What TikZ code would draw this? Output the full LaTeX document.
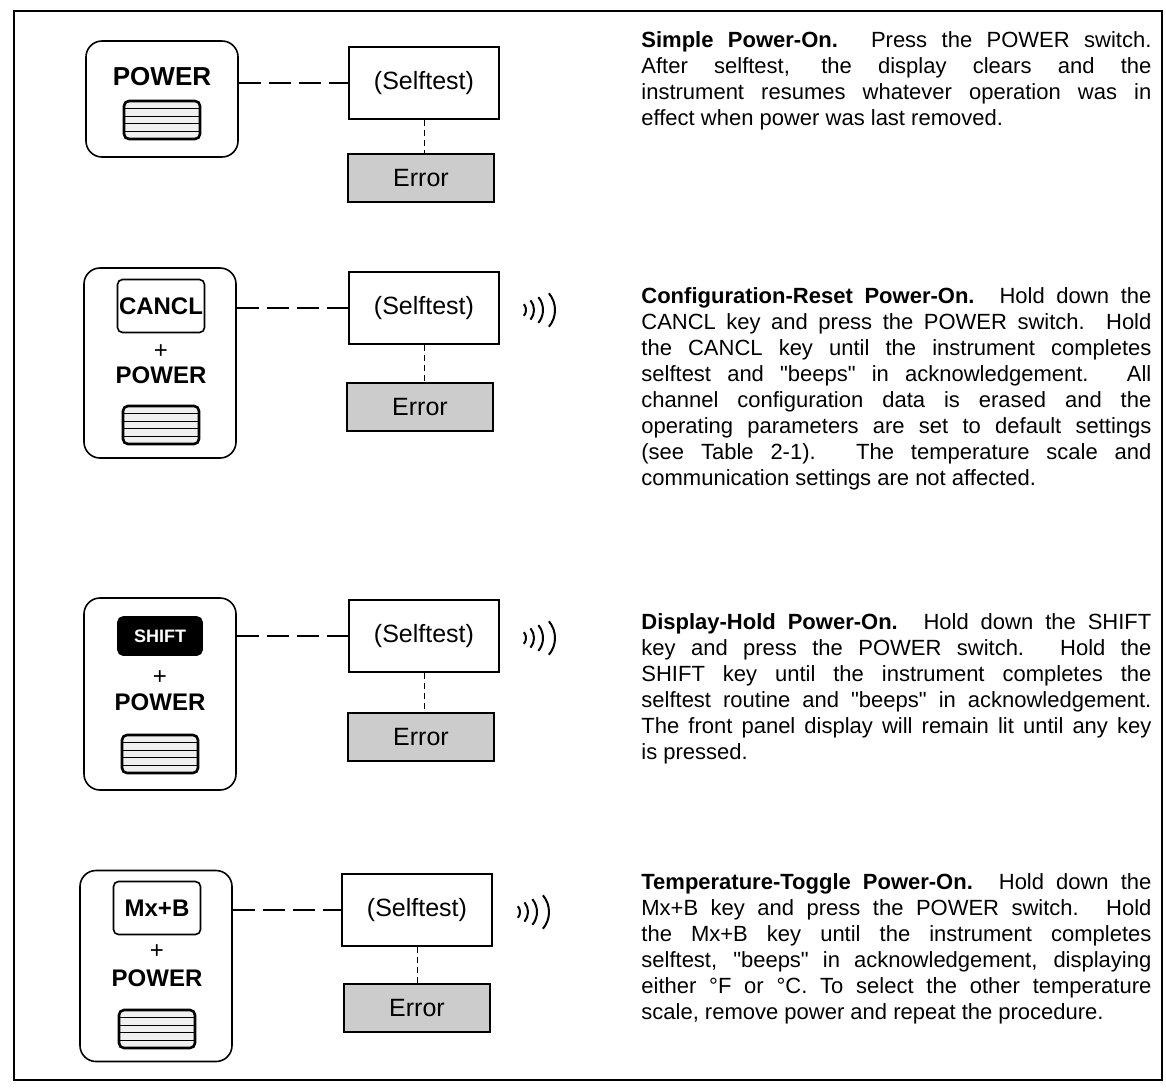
\documentclass[tikz,border=0pt]{standalone}
\usepackage{fontspec}
\setmainfont{Liberation Sans}
\usetikzlibrary{shapes,arrows,positioning}
\tolerance=9999
\hyphenpenalty=10000
\tikzstyle{panel} = [draw, line width=0.8pt, rounded corners=8pt, minimum width=76pt, inner sep=0pt]
\tikzstyle{key} = [draw, line width=0.8pt, rounded corners=2.5pt, minimum width=43.5pt, minimum height=26.5pt, inner sep=0pt, font=\fontsize{12}{14}\selectfont\bfseries]
\tikzstyle{shiftkey} = [key, fill=black, text=white, minimum width=42pt, minimum height=19pt, font=\fontsize{9}{10}\selectfont\bfseries]
\tikzstyle{keyname} = [inner sep=0pt, font=\fontsize{12}{14}\selectfont\bfseries]
\tikzstyle{plus} = [inner sep=0pt, font=\fontsize{12}{14}\selectfont]
\tikzstyle{pswitch} = [draw, line width=1.3pt, rounded corners=2.5pt, minimum width=38pt, minimum height=19pt, inner sep=0pt, fill=gray!12,
  path picture={\foreach \k in {1,...,4} \draw[line width=0.6pt] ([yshift=\k*3.8pt]path picture bounding box.south west) -- ([yshift=\k*3.8pt]path picture bounding box.south east);}]
\tikzstyle{selftest} = [draw, line width=1pt, minimum width=75pt, minimum height=36pt, inner sep=0pt, font=\fontsize{12.5}{14}\selectfont]
\tikzstyle{error} = [draw, line width=1pt, fill=gray!40, minimum width=73pt, minimum height=24pt, inner sep=0pt, font=\fontsize{12.5}{14}\selectfont]
\tikzstyle{line} = [draw, line width=0.7pt, dash pattern=on 11pt off 4pt]
\tikzstyle{vline} = [draw, line width=0.5pt, dash pattern=on 3pt off 2pt]
\tikzstyle{para} = [anchor=base west, inner sep=0pt, text width=255pt, align=justify, font=\fontsize{11}{13}\selectfont]

\begin{document}
\begin{tikzpicture} [x=0.5pt, y=-0.5pt]

  \useasboundingbox (0,0) rectangle (1166,1088);
  \draw[line width=0.7pt] (14,11) rectangle (1162,1080);

  % simple power-on
  \node[panel, minimum height=58pt] (p1) at (162,99) {};
  \node[keyname, font=\fontsize{13}{15}\selectfont\bfseries] (pw1) at (162,77) {POWER};
  \node[pswitch] (sw1) at (162,120) {};
  \node[selftest] (st1) at (424,83) {(Selftest)};
  \node[error] (er1) at (421,178) {Error};
  \path[line] (st1.west -| p1.east) -- (st1.west);
  \path[vline] (st1.south) -- (st1.south |- er1.north);

  % configuration reset
  \node[panel, minimum height=95pt] (p2) at (160,363) {};
  \node[key] (k2) at (161,306) {CANCL};
  \node[plus] (pl2) at (161,352) {+};
  \node[keyname] (pw2) at (161,375) {POWER};
  \node[pswitch] (sw2) at (161,425) {};
  \node[selftest] (st2) at (424,308) {(Selftest)};
  \node[error] (er2) at (420,407) {Error};
  \path[line] (st2.west -| p2.east) -- (st2.west);
  \path[vline] (st2.south) -- (st2.south |- er2.north);
  \foreach \r/\x in {9/526,15/534,20/543,26/555}
    \draw[line width=1pt] (\x,310) arc[start angle=0, end angle=40, radius=\r] (\x,310) arc[start angle=0, end angle=-40, radius=\r];

  % display hold
  \node[panel, minimum height=96pt] (p3) at (160,694) {};
  \node[shiftkey] (k3) at (160,636) {SHIFT};
  \node[plus] (pl3) at (160,678) {+};
  \node[keyname] (pw3) at (160,702) {POWER};
  \node[pswitch] (sw3) at (160,754) {};
  \node[selftest] (st3) at (424,636) {(Selftest)};
  \node[error] (er3) at (421,737) {Error};
  \path[line] (st3.west -| p3.east) -- (st3.west);
  \path[vline] (st3.south) -- (st3.south |- er3.north);
  \foreach \r/\x in {9/526,15/534,20/543,26/555}
    \draw[line width=1pt] (\x,638) arc[start angle=0, end angle=40, radius=\r] (\x,638) arc[start angle=0, end angle=-40, radius=\r];

  % temperature toggle
  \node[panel, minimum height=95.5pt] (p4) at (156,966) {};
  \node[key] (k4) at (157,908) {Mx+B};
  \node[plus] (pl4) at (157,952) {+};
  \node[keyname] (pw4) at (157,978) {POWER};
  \node[pswitch] (sw4) at (157,1029) {};
  \node[selftest] (st4) at (417,910) {(Selftest)};
  \node[error] (er4) at (417,1008) {Error};
  \path[line] (st4.west -| p4.east) -- (st4.west);
  \path[vline] (st4.south) -- (st4.south |- er4.north);
  \foreach \r/\x in {9/520,15/528,20/537,26/549}
    \draw[line width=1pt] (\x,912) arc[start angle=0, end angle=40, radius=\r] (\x,912) arc[start angle=0, end angle=-40, radius=\r];

  % descriptions
  \node[para] (t1) at (641,47) {\textbf{Simple Power-On.}  Press the POWER switch.\linebreak
    After selftest, the display clears and the\linebreak
    instrument resumes whatever operation was in\linebreak
    effect when power was last removed.};
  \node[para] (t2) at (641,303) {\textbf{Configuration-Reset Power-On.}  Hold down the\linebreak
    CANCL key and press the POWER switch.  Hold\linebreak
    the CANCL key until the instrument completes\linebreak
    selftest and \textquotedbl beeps\textquotedbl\ in acknowledgement.  All\linebreak
    channel configuration data is erased and the\linebreak
    operating parameters are set to default settings\linebreak
    (see Table 2-1).  The temperature scale and\linebreak
    communication settings are not affected.};
  \node[para] (t3) at (641,629) {\textbf{Display-Hold Power-On.}  Hold down the SHIFT\linebreak
    key and press the POWER switch.  Hold the\linebreak
    SHIFT key until the instrument completes the\linebreak
    selftest routine and \textquotedbl beeps\textquotedbl\ in acknowledgement.\linebreak
    The front panel display will remain lit until any key\linebreak
    is pressed.};
  \node[para] (t4) at (641,889) {\textbf{Temperature-Toggle Power-On.}  Hold down the\linebreak
    Mx+B key and press the POWER switch.  Hold\linebreak
    the Mx+B key until the instrument completes\linebreak
    selftest, \textquotedbl beeps\textquotedbl\ in acknowledgement, displaying\linebreak
    either °F or °C.  To select the other temperature\linebreak
    scale, remove power and repeat the procedure.};

\end{tikzpicture}
\end{document}
